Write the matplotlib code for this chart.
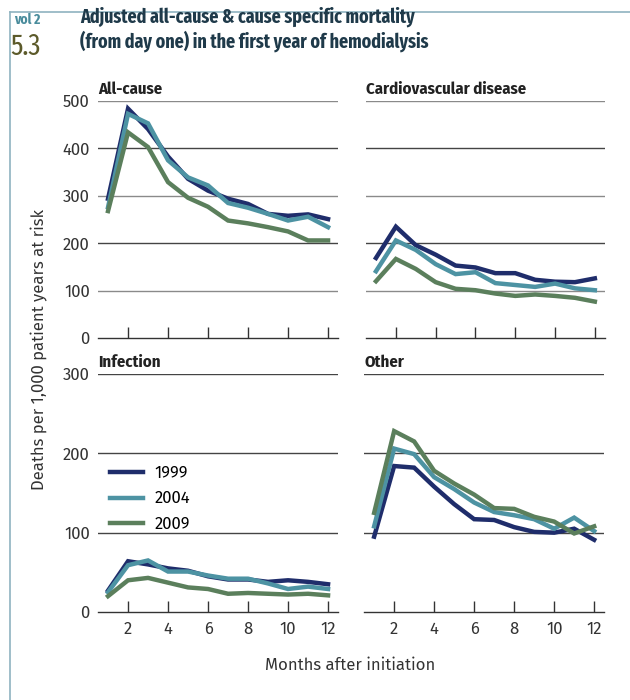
import matplotlib
matplotlib.use("Agg")
import matplotlib.pyplot as plt
from matplotlib.lines import Line2D

months = list(range(1, 13))
years = ["1999", "2004", "2009"]
colors = ["#1f2d6b", "#4d93a3", "#5b7f5c"]

all_cause = {
    "1999": [294, 484, 441, 383, 336, 311, 294, 283, 262, 258, 261, 251],
    "2004": [276, 473, 453, 375, 339, 322, 285, 275, 262, 248, 256, 234],
    "2009": [268, 434, 403, 329, 296, 277, 248, 242, 234, 225, 206, 206],
}
cardio = {
    "1999": [169, 235, 196, 176, 153, 149, 137, 137, 123, 119, 118, 126],
    "2004": [141, 206, 186, 156, 135, 139, 116, 112, 108, 115, 105, 101],
    "2009": [120, 167, 146, 118, 104, 101, 94, 89, 92, 89, 85, 77],
}
infection = {
    "1999": [27, 64, 60, 55, 52, 45, 41, 41, 38, 40, 38, 35],
    "2004": [25, 59, 65, 51, 51, 46, 42, 42, 36, 29, 32, 29],
    "2009": [20, 40, 43, 37, 31, 29, 23, 24, 23, 22, 23, 21],
}
other = {
    "1999": [95, 184, 182, 158, 136, 117, 116, 107, 101, 100, 105, 91],
    "2004": [108, 206, 199, 170, 155, 138, 126, 122, 117, 105, 119, 102],
    "2009": [125, 228, 215, 178, 162, 148, 131, 130, 120, 114, 99, 108],
}

panels = [
    ("All-cause", all_cause, 500, [0.1556, 0.517, 0.381, 0.3386], True),
    ("Cardiovascular disease", cardio, 500, [0.581, 0.517, 0.379, 0.3386], False),
    ("Infection", infection, 300, [0.1556, 0.1257, 0.381, 0.34], True),
    ("Other", other, 300, [0.578, 0.1257, 0.381, 0.34], False),
]

head_font = ["Fira Sans Condensed", "Fira Sans Extra Condensed", "DejaVu Sans"]
title_font = ["Fira Sans Extra Condensed", "Fira Sans Condensed", "DejaVu Sans"]
body_font = ["Fira Sans", "DejaVu Sans"]
plt.rcParams["font.family"] = body_font

fig = plt.figure(figsize=(6.3, 7), dpi=100)

axes = []
for title, data, ymax, rect, show_y in panels:
    ax = fig.add_axes(rect)
    for v in range(100, ymax + 1, 100):
        c = "#8a8a8a" if (ymax - v) % 200 == 0 and ymax == 500 else "#444444"
        ax.axhline(v, color=c, lw=1.0, zorder=1)
    for y, col in zip(years, colors):
        ax.plot(months, data[y], color=col, lw=3.2, label=y,
                solid_joinstyle="miter", zorder=3)
    ax.set_xlim(0.5, 12.5)
    ax.set_ylim(0, ymax)
    for s in ["top", "right", "left"]:
        ax.spines[s].set_visible(False)
    ax.spines["bottom"].set_color("#333333")
    ax.spines["bottom"].set_linewidth(1.0)
    ax.set_xticks(range(2, 13, 2))
    ax.tick_params(axis="x", direction="in", length=8, width=1, color="#333333",
                   labelsize=12, labelcolor="#333333", pad=7)
    ax.set_yticks(range(0, ymax + 1, 100))
    ax.tick_params(axis="y", length=0, labelsize=12, labelcolor="#333333", pad=6)
    if not show_y:
        ax.set_yticklabels([])
    if ymax == 500:
        ax.set_xticklabels([])
    ax.text(0.0, 1.015, title, transform=ax.transAxes, fontsize=12,
            fontweight="bold", family=head_font, color="#222222",
            ha="left", va="bottom")
    axes.append(ax)

axes[2].legend(loc="upper left", bbox_to_anchor=(0.0, 0.665), frameon=False,
               fontsize=12, handlelength=2.0, handletextpad=0.7,
               labelspacing=0.55, borderaxespad=0.3)

fig.text(0.063, 0.5, "Deaths per 1,000 patient years at risk", rotation=90,
         ha="center", va="center", fontsize=12, color="#333333")
fig.text(0.555, 0.05, "Months after initiation", ha="center", va="center",
         fontsize=12, color="#333333")

# header
fig.text(0.022, 0.966, "vol 2", fontsize=10.5, color="#4a8c9c",
         family=title_font, fontweight="bold", ha="left", va="baseline")
fig.text(0.016, 0.922, "5.3", fontsize=21, color="#5c5a2a",
         family=title_font, ha="left", va="baseline")
fig.text(0.127, 0.962, "Adjusted all-cause & cause specific mortality",
         fontsize=14, fontweight="bold", color="#1f3a4a", family=title_font,
         ha="left", va="bottom")
fig.text(0.127, 0.926, "(from day one) in the first year of hemodialysis",
         fontsize=14, fontweight="bold", color="#1f3a4a", family=title_font,
         ha="left", va="bottom")

# page frame
fig.add_artist(Line2D([0.016, 0.016], [0.0, 0.983], color="#8fb3c0", lw=1.2,
                      transform=fig.transFigure))
fig.add_artist(Line2D([0.016, 1.0], [0.983, 0.983], color="#8fb3c0", lw=1.2,
                      transform=fig.transFigure))

fig.savefig("out.png", dpi=100)
